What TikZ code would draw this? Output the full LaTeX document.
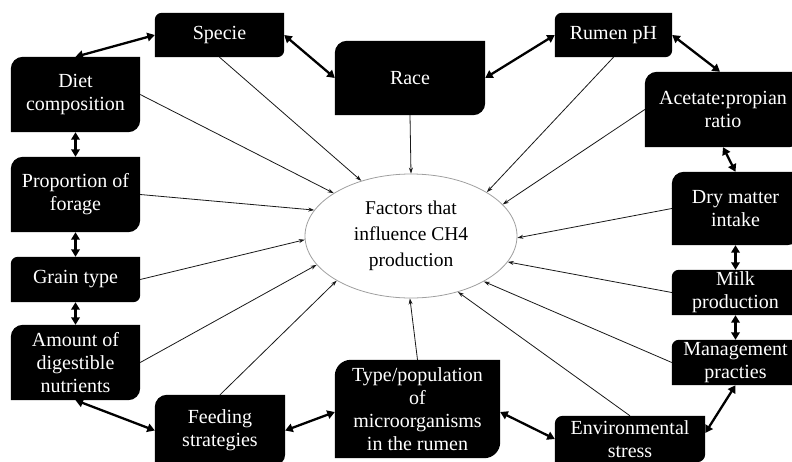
\documentclass[tikz,border=0pt]{standalone}
\usepackage{fontspec}
\setmainfont{Liberation Serif}
\newfontfamily\tnrfont{Liberation Serif}
\usetikzlibrary{shapes.geometric,arrows.meta,backgrounds}
\newcommand\rdiagbox[2]{%
  \fill[black] (#1.south west) -- ([yshift=-#2]#1.north west)
    arc[start angle=180,end angle=90,radius=#2] -- (#1.north east)
    -- ([yshift=#2]#1.south east)
    arc[start angle=0,end angle=-90,radius=#2] -- cycle;}
\tikzset{
  box/.style={rectangle, inner sep=0pt, text=white, align=center,
    font=\tnrfont\fontsize{20}{23}\selectfont},
  ellnode/.style={ellipse, draw=gray!75, line width=0.8pt, inner sep=0pt,
    minimum width=212pt, minimum height=124pt, align=center,
    font=\tnrfont\fontsize{19.5}{26}\selectfont},
  thinarrow/.style={draw=black!90, line width=0.8pt, -{Stealth[length=6pt,width=4pt]}},
  dblarrow/.style={draw=black, line width=2.3pt, {Triangle[length=7.5pt,width=8.5pt]}-{Triangle[length=7.5pt,width=8.5pt]}}
}
\begin{document}
\begin{tikzpicture}[x=1pt,y=1pt]
\clip (0,0) rectangle (792,-461);
% boxes
\node[box, minimum width=129pt, minimum height=44pt] (spec) at (219.5,-35) {Specie};
\node[box, minimum width=150pt, minimum height=74pt] (race) at (410,-78) {Race};
\node[box, minimum width=117pt, minimum height=44pt] (rph) at (613.5,-35) {Rumen pH};
\node[box, minimum width=156pt, minimum height=75pt] (acet) at (723,-109.5) {Acetate:propian\\ratio};
\node[box, minimum width=127pt, minimum height=73pt] (dmi) at (735.5,-208.5) {Dry matter\\intake};
\node[box, minimum width=127pt, minimum height=45pt] (milk) at (735.5,-292.5) {Milk\\production};
\node[box, minimum width=127pt, minimum height=45pt] (mgmt) at (735.5,-362.5) {Management\\practies};
\node[box, minimum width=150pt, minimum height=46pt] (env) at (630,-439) {Environmental\\stress};
\node[box, minimum width=165pt, minimum height=98pt] (type) at (417.5,-409) {Type/population\\of\\microorganisms\\in the rumen};
\node[box, minimum width=130pt, minimum height=71pt] (feed) at (220,-430.5) {Feeding\\strategies};
\node[box, minimum width=129pt, minimum height=75pt] (amount) at (75.5,-362.5) {Amount of\\digestible\\nutrients};
\node[box, minimum width=129pt, minimum height=45pt] (grain) at (75.5,-279.5) {Grain type};
\node[box, minimum width=129pt, minimum height=75pt] (prop) at (75.5,-194.5) {Proportion of\\forage};
\node[box, minimum width=129pt, minimum height=75pt] (diet) at (75.5,-94.5) {Diet\\composition};
% centre
\node[ellnode] (ell) at (411,-236) {Factors that\\influence CH4\\production};
% box backgrounds
\begin{scope}[on background layer]
\rdiagbox{spec}{7pt}
\rdiagbox{race}{12pt}
\rdiagbox{rph}{7pt}
\rdiagbox{acet}{12pt}
\rdiagbox{dmi}{12pt}
\rdiagbox{milk}{7pt}
\rdiagbox{mgmt}{7pt}
\rdiagbox{env}{8pt}
\rdiagbox{type}{16pt}
\rdiagbox{feed}{12pt}
\rdiagbox{amount}{12pt}
\rdiagbox{grain}{7pt}
\rdiagbox{prop}{12pt}
\rdiagbox{diet}{12pt}
\end{scope}
% thin arrows to the centre
\draw[thinarrow] (spec.south) -- (ell.132.2);
\draw[thinarrow] (diet.east) -- (ell.151.7);
\draw[thinarrow] (prop.east) -- (ell.165.8);
\draw[thinarrow] (grain.east) -- (ell.182);
\draw[thinarrow] (amount.east) -- (ell.197.9);
\draw[thinarrow] (feed.north) -- (ell.211.7);
\draw[thinarrow] (type.north) -- (ell.269);
\draw[thinarrow] (env.north) -- (ell.310.8);
\draw[thinarrow] (mgmt.west) -- (ell.328.8);
\draw[thinarrow] (milk.west) -- (ell.345.7);
\draw[thinarrow] (dmi.west) -- (ell.359.5);
\draw[thinarrow] (acet.west) -- (ell.19.9);
\draw[thinarrow] (rph.south) -- (ell.30.2);
\draw[thinarrow] (race.south) -- (ell.90);
% thick double arrows
\draw[dblarrow] (diet.north) -- (spec.west);
\draw[dblarrow] (spec.east) -- (race.west);
\draw[dblarrow] (race.east) -- (rph.west);
\draw[dblarrow] (rph.east) -- ([xshift=-3pt]acet.north);
\draw[dblarrow] (acet.south) -- (dmi.north);
\draw[dblarrow] (dmi.south) -- (milk.north);
\draw[dblarrow] (milk.south) -- (mgmt.north);
\draw[dblarrow] (mgmt.south) -- ([yshift=6pt]env.east);
\draw[dblarrow] (env.west) -- ([yshift=-3pt]type.east);
\draw[dblarrow] ([yshift=-3pt]type.west) -- (feed.east);
\draw[dblarrow] (feed.west) -- (amount.south);
\draw[dblarrow] (amount.north) -- (grain.south);
\draw[dblarrow] (grain.north) -- (prop.south);
\draw[dblarrow] (prop.north) -- (diet.south);
\end{tikzpicture}
\end{document}
